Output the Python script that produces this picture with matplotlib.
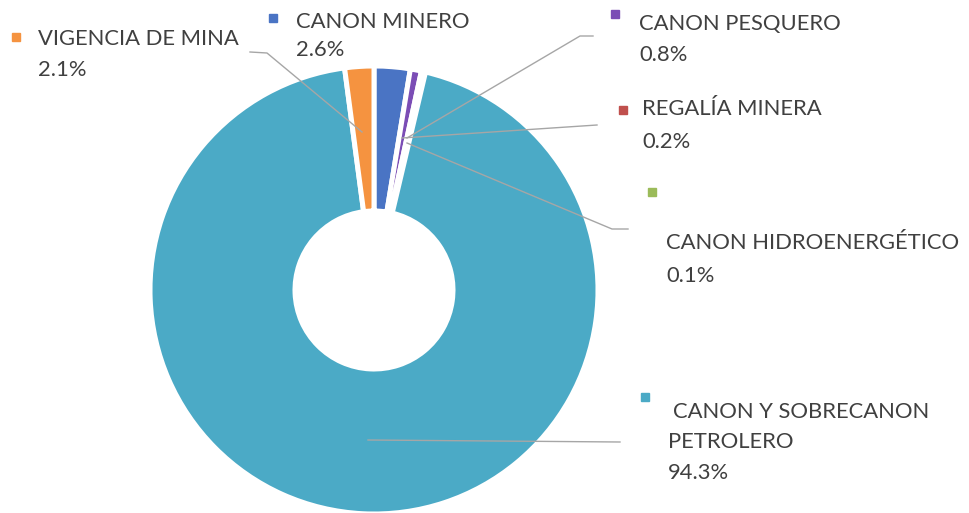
import matplotlib
matplotlib.use("Agg")
import matplotlib.pyplot as plt

W, H = 970, 513

categories = ["CANON MINERO", "CANON PESQUERO", "REGALÍA MINERA",
              "CANON HIDROENERGÉTICO", "CANON Y SOBRECANON\nPETROLERO",
              "VIGENCIA DE MINA"]
values = [2.6, 0.8, 0.2, 0.1, 94.3, 2.1]
pct_labels = ["2.6%", "0.8%", "0.2%", "0.1%", "94.3%", "2.1%"]
colors = ["#4A74C4", "#7B4DB5", "#C0504D", "#9BBB59", "#4BAAC6", "#F59340"]

plt.rcParams['font.family'] = ['Lato', 'DejaVu Sans']

fig = plt.figure(figsize=(W / 100, H / 100), dpi=100)
ax = fig.add_axes([0, 0, 1, 1])

def Y(v):
    return H - v

cx, cy = 374, 290
R_out, R_in = 224, 79
ax.pie(values, colors=colors, startangle=90, counterclock=False,
       center=(cx, Y(cy)), radius=R_out,
       wedgeprops=dict(width=R_out - R_in, edgecolor="white", linewidth=3.6))

ax.set_xlim(0, W)
ax.set_ylim(0, H)
ax.set_aspect("equal")
ax.axis("off")

line_kw = dict(color="#A6A6A6", lw=1.0, zorder=3)
# leader lines (image pixel coordinates)
leaders = [
    None,  # canon minero: no leader
    [(407, 138), (580, 36), (593, 36)],
    [(402, 138), (597, 125)],
    [(407, 143), (612, 229), (628, 229)],
    [(368, 440), (620, 442)],
    [(362, 132), (267, 53), (250, 52)],
]
for pts in leaders:
    if pts is None:
        continue
    xs = [p[0] for p in pts]
    ys = [Y(p[1]) for p in pts]
    ax.plot(xs, ys, **line_kw)

txt_color = "#404040"
fs = 15.8
# label layout: (marker x, marker y, text x, name center y, pct center y)
layout = [
    (273, 18, 296, 22, 50),
    (615, 14, 639, 24, 55),
    (623, 110, 642, 109, 142),
    (652, 192, 666, 243, 276),
    (645, 397, 668, 427, 473),
    (16, 37, 38, 39, 70),
]
for i, (mx, my, tx, ny, py) in enumerate(layout):
    ax.plot([mx], [Y(my)], marker="s", markersize=5.5, color=colors[i],
            linestyle="none", zorder=4)
    name = categories[i]
    if "\n" in name:
        first, second = name.split("\n")
        ax.text(tx + 5, Y(412), first, fontsize=fs, color=txt_color,
                ha="left", va="center")
        ax.text(tx, Y(442), second, fontsize=fs, color=txt_color,
                ha="left", va="center")
    else:
        ax.text(tx, Y(ny), name, fontsize=fs, color=txt_color,
                ha="left", va="center")
    ax.text(tx, Y(py), pct_labels[i], fontsize=fs, color=txt_color,
            ha="left", va="center")

fig.savefig("out.png", dpi=100, facecolor="white")
